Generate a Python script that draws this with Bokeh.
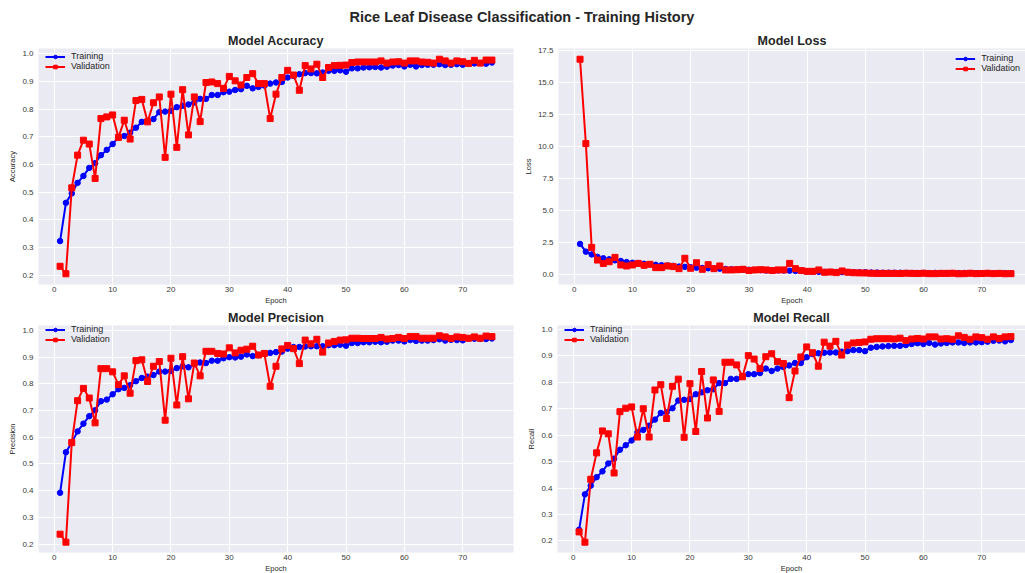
from bokeh.plotting import figure
from bokeh.layouts import column, row
from bokeh.models import Range1d, FixedTicker, NumeralTickFormatter, Div
from bokeh.embed import file_html
from bokeh.resources import INLINE

epochs = list(range(1, 76))

train_acc = [0.324, 0.462, 0.496, 0.534, 0.559, 0.588, 0.605, 0.634, 0.653, 0.674,
             0.698, 0.703, 0.715, 0.733, 0.754, 0.757, 0.764, 0.789, 0.791, 0.794,
             0.807, 0.812, 0.817, 0.824, 0.837, 0.837, 0.851, 0.851, 0.861, 0.863,
             0.869, 0.872, 0.884, 0.875, 0.880, 0.885, 0.892, 0.896, 0.898, 0.914,
             0.920, 0.926, 0.930, 0.930, 0.929, 0.932, 0.938, 0.938, 0.940, 0.935,
             0.947, 0.947, 0.950, 0.951, 0.952, 0.950, 0.953, 0.957, 0.959, 0.954,
             0.960, 0.954, 0.959, 0.960, 0.960, 0.962, 0.959, 0.960, 0.962, 0.960,
             0.964, 0.965, 0.966, 0.964, 0.968]
val_acc = [0.233, 0.206, 0.516, 0.634, 0.688, 0.674, 0.550, 0.766, 0.772, 0.779,
           0.698, 0.760, 0.692, 0.831, 0.835, 0.754, 0.823, 0.844, 0.626, 0.854,
           0.662, 0.870, 0.707, 0.844, 0.755, 0.896, 0.898, 0.892, 0.875, 0.918,
           0.902, 0.887, 0.914, 0.928, 0.892, 0.892, 0.766, 0.854, 0.914, 0.940,
           0.923, 0.868, 0.957, 0.945, 0.962, 0.914, 0.950, 0.957, 0.958, 0.959,
           0.968, 0.970, 0.970, 0.970, 0.970, 0.974, 0.966, 0.970, 0.971, 0.966,
           0.974, 0.974, 0.970, 0.969, 0.966, 0.980, 0.974, 0.966, 0.974, 0.971,
           0.965, 0.976, 0.966, 0.977, 0.977]

train_loss = [2.42, 1.82, 1.60, 1.41, 1.30, 1.22, 1.14, 1.09, 1.00, 0.95,
              0.92, 0.87, 0.84, 0.79, 0.76, 0.73, 0.71, 0.65, 0.63, 0.60,
              0.57, 0.54, 0.52, 0.50, 0.49, 0.46, 0.44, 0.43, 0.41, 0.40,
              0.39, 0.38, 0.35, 0.37, 0.36, 0.35, 0.33, 0.31, 0.31, 0.27,
              0.26, 0.24, 0.23, 0.23, 0.23, 0.22, 0.21, 0.21, 0.20, 0.21,
              0.18, 0.18, 0.17, 0.17, 0.17, 0.17, 0.16, 0.15, 0.15, 0.16,
              0.14, 0.16, 0.15, 0.14, 0.14, 0.14, 0.15, 0.14, 0.14, 0.14,
              0.13, 0.13, 0.13, 0.13, 0.12]
val_loss = [16.85, 10.26, 2.15, 1.16, 0.90, 1.03, 1.37, 0.78, 0.70, 0.78,
            0.90, 0.75, 0.83, 0.57, 0.57, 0.70, 0.65, 0.49, 1.30, 0.52,
            0.95, 0.44, 0.80, 0.49, 0.70, 0.39, 0.39, 0.41, 0.44, 0.34,
            0.39, 0.41, 0.39, 0.34, 0.39, 0.39, 0.90, 0.49, 0.34, 0.28,
            0.28, 0.39, 0.21, 0.23, 0.18, 0.31, 0.21, 0.17, 0.16, 0.15,
            0.13, 0.12, 0.12, 0.12, 0.12, 0.11, 0.13, 0.12, 0.11, 0.13,
            0.10, 0.10, 0.12, 0.12, 0.13, 0.09, 0.10, 0.13, 0.10, 0.11,
            0.13, 0.10, 0.12, 0.09, 0.10]

train_prec = [0.392, 0.544, 0.580, 0.622, 0.651, 0.679, 0.701, 0.735, 0.741, 0.761,
              0.780, 0.785, 0.795, 0.810, 0.822, 0.827, 0.833, 0.846, 0.846, 0.848,
              0.859, 0.866, 0.862, 0.874, 0.880, 0.878, 0.887, 0.887, 0.896, 0.900,
              0.899, 0.902, 0.910, 0.904, 0.908, 0.912, 0.916, 0.919, 0.921, 0.932,
              0.938, 0.938, 0.940, 0.941, 0.941, 0.941, 0.945, 0.945, 0.947, 0.943,
              0.953, 0.953, 0.956, 0.956, 0.958, 0.956, 0.958, 0.962, 0.962, 0.959,
              0.964, 0.961, 0.962, 0.962, 0.964, 0.967, 0.962, 0.965, 0.964, 0.963,
              0.969, 0.969, 0.969, 0.968, 0.970]
val_prec = [0.237, 0.207, 0.580, 0.737, 0.783, 0.747, 0.654, 0.857, 0.857, 0.845,
            0.797, 0.830, 0.765, 0.887, 0.890, 0.809, 0.866, 0.884, 0.664, 0.896,
            0.721, 0.902, 0.744, 0.878, 0.830, 0.922, 0.922, 0.914, 0.912, 0.935,
            0.916, 0.926, 0.930, 0.941, 0.908, 0.914, 0.791, 0.866, 0.931, 0.944,
            0.932, 0.876, 0.964, 0.950, 0.967, 0.919, 0.953, 0.959, 0.964, 0.965,
            0.971, 0.971, 0.970, 0.970, 0.970, 0.974, 0.968, 0.970, 0.974, 0.970,
            0.977, 0.977, 0.971, 0.971, 0.971, 0.980, 0.976, 0.970, 0.976, 0.974,
            0.971, 0.976, 0.971, 0.979, 0.977]

train_rec = [0.242, 0.376, 0.409, 0.441, 0.463, 0.493, 0.511, 0.545, 0.562, 0.580,
             0.611, 0.620, 0.636, 0.659, 0.684, 0.687, 0.702, 0.731, 0.734, 0.737,
             0.755, 0.762, 0.770, 0.774, 0.797, 0.797, 0.813, 0.813, 0.823, 0.831,
             0.831, 0.835, 0.852, 0.843, 0.852, 0.858, 0.864, 0.873, 0.873, 0.895,
             0.907, 0.910, 0.912, 0.913, 0.913, 0.916, 0.918, 0.922, 0.922, 0.918,
             0.931, 0.934, 0.936, 0.937, 0.938, 0.938, 0.941, 0.945, 0.948, 0.945,
             0.949, 0.943, 0.947, 0.949, 0.951, 0.951, 0.949, 0.951, 0.951, 0.952,
             0.954, 0.957, 0.958, 0.955, 0.960]
val_rec = [0.234, 0.195, 0.433, 0.533, 0.616, 0.605, 0.457, 0.689, 0.702, 0.707,
           0.593, 0.700, 0.593, 0.771, 0.791, 0.663, 0.785, 0.812, 0.592, 0.795,
           0.614, 0.841, 0.665, 0.809, 0.690, 0.876, 0.876, 0.866, 0.821, 0.901,
           0.888, 0.852, 0.897, 0.908, 0.878, 0.871, 0.742, 0.843, 0.896, 0.934,
           0.912, 0.861, 0.952, 0.937, 0.955, 0.903, 0.941, 0.949, 0.951, 0.953,
           0.963, 0.965, 0.965, 0.965, 0.964, 0.967, 0.958, 0.964, 0.966, 0.964,
           0.972, 0.972, 0.964, 0.965, 0.963, 0.976, 0.970, 0.963, 0.972, 0.969,
           0.963, 0.972, 0.966, 0.972, 0.973]

x_ticks = [0, 10, 20, 30, 40, 50, 60, 70]
metric_ticks = [0.2, 0.3, 0.4, 0.5, 0.6, 0.7, 0.8, 0.9, 1.0]
loss_ticks = [0.0, 2.5, 5.0, 7.5, 10.0, 12.5, 15.0, 17.5]

FONT = "Liberation Sans"
BG = "#EAEAF2"
TXT = "#262626"

# layout (px)
LEFT_W, RIGHT_W = 520, 505
LEFT_MBL, LEFT_MBR = 38, 7
RIGHT_MBL, RIGHT_MBR = 37, 0
DIV_H = 18
TOP_H, TOP_MBT, TOP_MBB = 279, 20, 20
BOT_H, BOT_MBT, BOT_MBB = 268, 15, 19


def pad_range(values_a, values_b, frac=0.05):
    lo = min(min(values_a), min(values_b))
    hi = max(max(values_a), max(values_b))
    d = (hi - lo) * frac
    return lo - d, hi + d


x0 = epochs[0] - 0.05 * (epochs[-1] - epochs[0])
x_end_left = epochs[-1] + 0.05 * (epochs[-1] - epochs[0])
left_frame_w = LEFT_W - LEFT_MBL - LEFT_MBR
right_frame_w = RIGHT_W - RIGHT_MBL - RIGHT_MBR
# right panels are cut off at the window edge in the original: same scale, shorter view
x_end_right = x0 + (x_end_left - x0) * right_frame_w / left_frame_w


def make_fig(title, ylabel, train, val, yticks, width, height, mbl, mbr, mbt, mbb,
             x_end, legend_loc):
    ylo, yhi = pad_range(train, val)
    p = figure(width=width, height=height, output_backend="svg", toolbar_location=None,
               x_range=Range1d(x0, x_end), y_range=Range1d(ylo, yhi),
               min_border_left=mbl, min_border_right=mbr, min_border_top=mbt,
               min_border_bottom=mbb,
               background_fill_color=BG, border_fill_color="white",
               outline_line_color=None)
    p.title.text = title
    p.title.align = "center"
    p.title.text_font = FONT
    p.title.text_font_style = "bold"
    p.title.text_font_size = "12.5px"
    p.title.text_color = TXT
    p.title.standoff = 2

    p.xaxis.ticker = FixedTicker(ticks=x_ticks)
    p.yaxis.ticker = FixedTicker(ticks=yticks)
    p.yaxis.formatter = NumeralTickFormatter(format="0.0")
    p.xaxis.axis_label = "Epoch"
    p.yaxis.axis_label = ylabel
    for ax in (p.xaxis, p.yaxis):
        ax.axis_line_color = None
        ax.major_tick_line_color = None
        ax.minor_tick_line_color = None
        ax.major_tick_out = 0
        ax.major_tick_in = 0
        ax.major_label_text_font = FONT
        ax.major_label_text_font_size = "8px"
        ax.major_label_text_color = "#3a3a3a"
        ax.axis_label_text_font = FONT
        ax.axis_label_text_font_size = "7.5px"
        ax.axis_label_text_font_style = "normal"
        ax.axis_label_text_color = TXT
    p.xaxis.major_label_standoff = 2
    p.xaxis.axis_label_standoff = 1
    p.yaxis.major_label_standoff = 5
    p.yaxis.axis_label_standoff = 2

    p.grid.grid_line_color = "white"
    p.grid.grid_line_width = 1

    p.line(epochs, train, color="#0000FF", line_width=2, legend_label="Training")
    p.scatter(epochs, train, marker="circle", size=5.5, color="#0000FF", legend_label="Training")
    p.line(epochs, val, color="#FF0000", line_width=2, legend_label="Validation")
    p.scatter(epochs, val, marker="square", size=6, color="#FF0000", legend_label="Validation")

    lg = p.legend[0]
    lg.location = legend_loc
    lg.margin = 2
    lg.padding = 3
    lg.spacing = 0
    lg.label_text_font = FONT
    lg.label_text_font_size = "9px"
    lg.label_text_color = TXT
    lg.label_height = 9
    lg.glyph_height = 9
    lg.glyph_width = 20
    lg.label_standoff = 6
    lg.background_fill_alpha = 0
    lg.border_line_alpha = 0
    return p


top_frame_h = TOP_H - TOP_MBT - TOP_MBB
bot_frame_h = BOT_H - BOT_MBT - BOT_MBB

p1 = make_fig("Model Accuracy", "Accuracy", train_acc, val_acc, metric_ticks,
              LEFT_W, TOP_H, LEFT_MBL, LEFT_MBR, TOP_MBT, TOP_MBB, x_end_left,
              (4, top_frame_h - 29))
p2 = make_fig("Model Loss", "Loss", train_loss, val_loss, loss_ticks,
              RIGHT_W, TOP_H, RIGHT_MBL, RIGHT_MBR, TOP_MBT, TOP_MBB, x_end_right,
              "top_right")
p3 = make_fig("Model Precision", "Precision", train_prec, val_prec, metric_ticks,
              LEFT_W, BOT_H, LEFT_MBL, LEFT_MBR, BOT_MBT, BOT_MBB, x_end_left,
              (4, bot_frame_h - 29))
p4 = make_fig("Model Recall", "Recall", train_rec, val_rec, metric_ticks,
              RIGHT_W, BOT_H, RIGHT_MBL, RIGHT_MBR, BOT_MBT, BOT_MBB, x_end_right,
              (4, bot_frame_h - 29))

title_div = Div(
    text="Rice Leaf Disease Classification - Training History",
    width=LEFT_W + RIGHT_W, height=DIV_H,
    styles={"text-align": "center", "font-family": FONT, "font-weight": "bold",
            "font-size": "14.5px", "color": TXT, "padding-left": "9px",
            "padding-top": "2px", "box-sizing": "border-box", "white-space": "nowrap",
            "overflow": "visible"})

layout = column(title_div, row(p1, p2), row(p3, p4))

with open("out.html", "w") as f:
    f.write(file_html(layout, INLINE))
